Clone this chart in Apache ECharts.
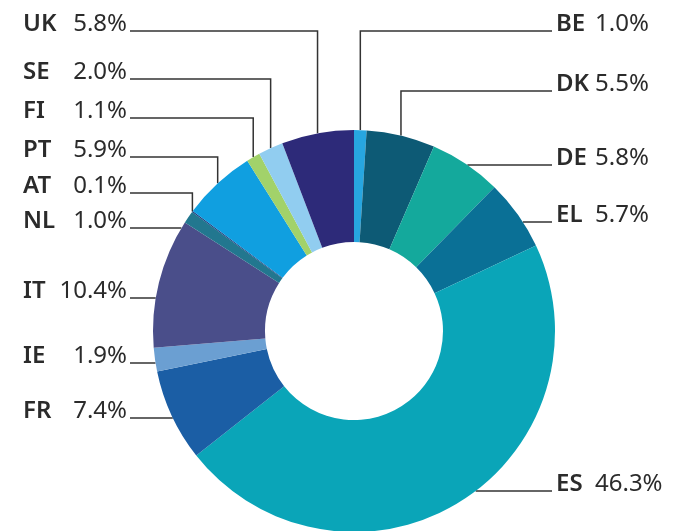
<!DOCTYPE html>
<html>
<head>
<meta charset="utf-8">
<script src="https://cdn.jsdelivr.net/npm/echarts@6/dist/echarts.min.js"></script>
<style>
html, body { margin: 0; padding: 0; background: #fff; }
#chart { width: 686px; height: 531px; }
</style>
</head>
<body>
<div id="chart"></div>
<script>
// Country shares, clockwise from 12 o'clock
const countries = ['BE', 'DK', 'DE', 'EL', 'ES', 'FR', 'IE', 'IT', 'NL', 'AT', 'PT', 'FI', 'SE', 'UK'];
const shares = [1.0, 5.5, 5.8, 5.7, 46.3, 7.4, 1.9, 10.4, 1.0, 0.1, 5.9, 1.1, 2.0, 5.8];
const sliceColors = ['#27a6e0', '#0d5a75', '#14a99c', '#0a7096', '#0aa5b8', '#1b5ea5', '#6b9fd2',
                     '#4a4e8a', '#22778f', '#1c3f80', '#109fe0', '#a2d26a', '#91cdf0', '#2d2a79'];

// Leader-line routing per label: side, label row height, and whether the line
// drops vertically onto the ring ('v') or runs straight into it ('h').
const labelRows = {
  BE: ['right', 31, 'v'], DK: ['right', 91, 'v'], DE: ['right', 165, 'h'],
  EL: ['right', 222, 'h'], ES: ['right', 491, 'h'],
  FR: ['left', 418, 'h'], IE: ['left', 363, 'h'], IT: ['left', 298, 'h'],
  NL: ['left', 228, 'h'], AT: ['left', 193, 'v'], PT: ['left', 157, 'v'],
  FI: ['left', 118, 'v'], SE: ['left', 79, 'v'], UK: ['left', 31, 'v']
};

const CX = 354, CY = 331, R_IN = 89, R_OUT = 201;
const LEFT_END = 130, RIGHT_END = 552;

const total = shares.reduce((a, b) => a + b, 0);
const midAngles = [];
let acc = 0;
shares.forEach(v => { midAngles.push((acc + v / 2) / total * 2 * Math.PI); acc += v; });

const chart = echarts.init(document.getElementById('chart'));

const textBase = { fontSize: 24, fontFamily: 'Noto Sans', color: '#2b2b2b' };

chart.setOption({
  animation: false,
  backgroundColor: '#fff',
  series: [{
    type: 'pie',
    center: [CX, CY],
    radius: [R_IN, R_OUT],
    startAngle: 90,
    clockwise: true,
    avoidLabelOverlap: false,
    silent: true,
    itemStyle: { borderWidth: 0 },
    data: countries.map((c, i) => ({
      name: c,
      value: shares[i],
      itemStyle: { color: sliceColors[i] }
    })),
    label: Object.assign({
      show: true,
      position: 'outside',
      formatter: p => {
        const side = labelRows[p.name][0];
        const val = p.value.toFixed(1) + '%';
        return side === 'left' ? '{ln|' + p.name + '}{lv|' + val + '}'
                               : '{rn|' + p.name + '}{rv|' + val + '}';
      },
      rich: {
        ln: Object.assign({ width: 42, align: 'left', fontWeight: 600 }, textBase),
        lv: Object.assign({ width: 62, align: 'right' }, textBase),
        rn: Object.assign({ width: 39, align: 'left', fontWeight: 600 }, textBase),
        rv: Object.assign({ align: 'left' }, textBase)
      }
    }, textBase),
    labelLine: {
      show: true,
      smooth: false,
      lineStyle: { color: '#333', width: 1.5 }
    },
    labelLayout: p => {
      const i = p.dataIndex;
      const row = labelRows[countries[i]];
      const side = row[0], y = row[1], kind = row[2];
      const endX = side === 'left' ? LEFT_END : RIGHT_END;
      let pts;
      if (kind === 'v') {
        const a = midAngles[i];
        const ax = CX + R_OUT * Math.sin(a), ay = CY - R_OUT * Math.cos(a);
        pts = [[ax, ay], [ax, y], [endX, y]];
      } else {
        const dx = Math.sqrt(Math.max(0, R_OUT * R_OUT - (y - CY) * (y - CY)));
        const ax = side === 'left' ? CX - dx : CX + dx;
        pts = [[ax, y], [(ax + endX) / 2, y], [endX, y]];
      }
      return {
        x: side === 'left' ? endX - 3 : endX + 4,
        y: y - 7,
        align: side === 'left' ? 'right' : 'left',
        verticalAlign: 'middle',
        labelLinePoints: pts
      };
    }
  }]
});
</script>
</body>
</html>
